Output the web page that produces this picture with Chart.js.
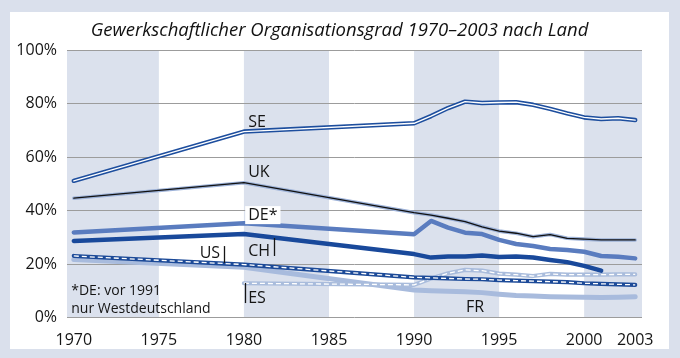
<!DOCTYPE html>
<html>
<head>
<meta charset="utf-8">
<script src="https://cdn.jsdelivr.net/npm/chart.js@4/dist/chart.umd.min.js"></script>
<style>
  html, body { margin: 0; padding: 0; }
  body { width: 680px; height: 358px; background: #dae0ec; position: relative; overflow: hidden; }
  #panel { position: absolute; left: 10px; top: 12px; width: 659px; height: 337px; background: #fff; }
</style>
</head>
<body>
<div id="panel"><canvas id="chart"></canvas></div>
<script>
const years = [1970, 1980, 1990, 1991, 1992, 1993, 1994, 1995, 1996, 1997, 1998, 1999, 2000, 2001, 2002, 2003];
const xTicks = [1970, 1975, 1980, 1985, 1990, 1995, 2000, 2003];
const bands = [[null, 1975], [1980, 1985], [1990, 1995], [2000, null]];

const se = [51.1, 69.5, 72.6, 75.3, 78.3, 80.7, 80.2, 80.4, 80.5, 79.5, 78.0, 76.3, 74.8, 74.2, 74.5, 73.8];
const uk = [44.6, 50.4, 39.2, 38.3, 37.1, 35.8, 33.9, 32.3, 31.5, 30.2, 31.0, 29.6, 29.3, 29.0, 29.0, 29.0];
const de = [31.8, 35.2, 31.1, 36.1, 33.6, 31.7, 31.2, 29.0, 27.5, 26.7, 25.6, 25.2, 24.6, 23.0, 22.7, 22.1];
const ch = [28.6, 31.2, 23.7, 22.4, 22.8, 22.8, 23.2, 22.6, 22.8, 22.4, 21.5, 20.7, 19.3, 17.5, null, null];
const us = [23.0, 19.8, 15.0, 14.8, 14.6, 14.4, 14.3, 14.0, 13.8, 13.6, 13.4, 13.2, 12.8, 12.6, 12.4, 12.2];
const es = [null, 12.8, 12.2, 14.6, 16.5, 17.8, 17.5, 16.4, 16.0, 15.5, 16.3, 16.0, 16.0, 16.0, 16.1, 16.1];
const fr = [21.7, 18.8, 10.3, 10.0, 9.8, 9.6, 9.3, 8.7, 8.2, 8.0, 7.8, 7.7, 7.6, 7.5, 7.6, 7.8];

const pts = (vals) => years.map((y, i) => ({ x: y, y: vals[i] }));

function line(vals, color, width, extra) {
  return Object.assign({
    data: pts(vals),
    borderColor: color,
    borderWidth: width,
    pointRadius: 0,
    fill: false,
    spanGaps: false,
    tension: 0,
    borderCapStyle: 'round',
    borderJoinStyle: 'round',
  }, extra || {});
}

// first in list is drawn on top
const datasets = [
  line(se, '#ffffff', 1.4, { label: 'SE inner' }),
  line(se, '#1d4e9e', 4.5, { label: 'SE' }),
  line(uk, '#111111', 1.3, { label: 'UK' }),
  line(uk, '#9db2d8', 3.6, { label: 'UK halo' }),
  line(de, '#5a7cbf', 4.5, { label: 'DE' }),
  line(ch, '#19499b', 4.5, { label: 'CH' }),
  line(us, '#ffffff', 1.3, { label: 'US inner', borderDash: [5, 3], borderCapStyle: 'butt' }),
  line(us, '#1c4a98', 4.2, { label: 'US' }),
  line(es, '#ffffff', 1.3, { label: 'ES inner', borderDash: [5, 3], borderCapStyle: 'butt' }),
  line(es, '#a9bcdc', 4.2, { label: 'ES' }),
  line(fr, '#a8bbdd', 5, { label: 'FR' }),
];
datasets.forEach((d, i) => { d.order = i; });

const bandPlugin = {
  id: 'bands',
  beforeDraw(chart) {
    const { ctx, chartArea: a, scales: { x } } = chart;
    ctx.save();
    ctx.fillStyle = '#dbe1ed';
    bands.forEach(([s, e]) => {
      const x0 = s === null ? a.left : x.getPixelForValue(s);
      const x1 = e === null ? a.right : x.getPixelForValue(e);
      ctx.fillRect(x0, a.top, x1 - x0, a.bottom - a.top);
    });
    ctx.restore();
  }
};

const labels = [
  { text: 'SE', x: 1980.25, y: 71.2 },
  { text: 'UK', x: 1980.25, y: 52.5 },
  { text: 'DE*', x: 1980.25, y: 36.4, box: true },
  { text: 'CH', x: 1980.25, y: 23.0 },
  { text: 'US', x: 1978.6, y: 22.2, right: true },
  { text: 'ES', x: 1980.25, y: 5.4 },
  { text: 'FR', x: 1993.05, y: 2.1 },
];
const ticksMarks = [
  { x: 1981.75, y0: 29.7, y1: 23.0 },
  { x: 1978.85, y0: 26.7, y1: 20.4 },
  { x: 1980.05, y0: 12.9, y1: 5.4 },
];
const notes = [
  { text: '*DE: vor 1991', x: 1969.85, y: 8.4 },
  { text: 'nur Westdeutschland', x: 1969.85, y: 1.7 },
];

const labelPlugin = {
  id: 'labels',
  afterDatasetsDraw(chart) {
    const { ctx, scales: { x, y } } = chart;
    ctx.save();
    ctx.textBaseline = 'alphabetic';
    ctx.font = '16px "Open Sans"';
    labels.forEach(l => {
      const px = x.getPixelForValue(l.x);
      const py = y.getPixelForValue(l.y);
      const w = ctx.measureText(l.text).width;
      const left = l.right ? px - w : px;
      if (l.box) {
        ctx.fillStyle = '#ffffff';
        ctx.fillRect(left - 3, py - 14, w + 6, 18);
      }
      ctx.fillStyle = '#151515';
      ctx.textAlign = 'left';
      ctx.fillText(l.text, left, py);
    });
    ctx.strokeStyle = '#151515';
    ctx.lineWidth = 1.3;
    ticksMarks.forEach(t => {
      const px = Math.round(x.getPixelForValue(t.x)) + 0.5;
      ctx.beginPath();
      ctx.moveTo(px, y.getPixelForValue(t.y0));
      ctx.lineTo(px, y.getPixelForValue(t.y1));
      ctx.stroke();
    });
    ctx.font = '14px "Open Sans"';
    ctx.fillStyle = '#151515';
    notes.forEach(n => {
      ctx.fillText(n.text, x.getPixelForValue(n.x), y.getPixelForValue(n.y));
    });
    ctx.restore();
  }
};

new Chart(document.getElementById('chart').getContext('2d'), {
  type: 'line',
  data: { datasets },
  options: {
    responsive: true,
    maintainAspectRatio: false,
    devicePixelRatio: 1,
    animation: false,
    layout: { padding: 0 },
    plugins: {
      legend: { display: false },
      tooltip: { enabled: false },
      title: {
        display: true,
        text: 'Gewerkschaftlicher Organisationsgrad 1970–2003 nach Land',
        color: '#111111',
        font: { family: '"Open Sans"', size: 18.5, style: 'italic', weight: 'normal', lineHeight: 1.2 },
        padding: { top: 8, bottom: 7.8 },
      },
    },
    scales: {
      x: {
        type: 'linear',
        min: 1969.6,
        max: 2003.4,
        grid: { display: false },
        border: { display: false },
        afterBuildTicks: (s) => { s.ticks = xTicks.map(v => ({ value: v })); },
        afterFit: (s) => { s.height = 31.5; },
        ticks: {
          autoSkip: false,
          maxRotation: 0,
          padding: 5,
          color: '#151515',
          font: { family: '"Open Sans"', size: 16 },
          callback: (v) => String(v),
        },
      },
      y: {
        min: 0,
        max: 100,
        grid: { color: '#9c9c9c', lineWidth: 1, drawTicks: false },
        border: { display: false },
        afterFit: (s) => { s.width = 57; },
        ticks: {
          stepSize: 20,
          padding: 10,
          color: '#151515',
          font: { family: '"Open Sans"', size: 16 },
          callback: (v) => v + '%',
        },
      },
      yRight: {
        position: 'right',
        min: 0,
        max: 100,
        grid: { display: false },
        border: { display: false },
        ticks: { display: false },
        afterFit: (s) => { s.width = 27; },
      },
    },
  },
  plugins: [bandPlugin, labelPlugin],
});
</script>
</body>
</html>
